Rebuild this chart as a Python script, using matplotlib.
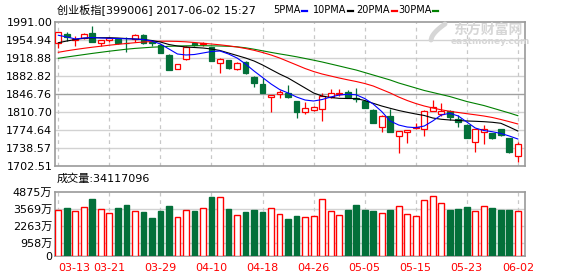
import matplotlib
matplotlib.use('Agg')
import matplotlib.pyplot as plt
from matplotlib.lines import Line2D
import numpy as np

plt.rcParams['font.family'] = ['DejaVu Sans', 'Noto Sans CJK SC']

# ---- data ----
dates = ['03-13', '03-14', '03-15', '03-16', '03-17', '03-20', '03-21', '03-22', '03-23', '03-24',
         '03-27', '03-28', '03-29', '03-30', '03-31', '04-05', '04-06', '04-07', '04-10', '04-11',
         '04-12', '04-13', '04-14', '04-17', '04-18', '04-19', '04-20', '04-21', '04-24', '04-25',
         '04-26', '04-27', '04-28', '05-02', '05-03', '05-04', '05-05', '05-08', '05-09', '05-10',
         '05-11', '05-12', '05-15', '05-16', '05-17', '05-18', '05-19', '05-22', '05-23', '05-24',
         '05-25', '05-26', '05-31', '06-01', '06-02']

opens = [1949.5, 1966.4, 1954.3, 1959.6, 1968.4, 1948.3, 1954.3, 1957.6, 1949.6, 1956.3,
         1965.0, 1951.0, 1945.0, 1925.0, 1896.8, 1916.3, 1948.0, 1946.3, 1940.3, 1908.2,
         1914.9, 1896.8, 1911.5, 1881.4, 1866.8, 1841.4, 1846.1, 1848.2, 1832.8, 1810.1,
         1814.0, 1816.1, 1841.4, 1847.4, 1850.1, 1839.4, 1832.8, 1814.7, 1781.3, 1802.7,
         1762.0, 1770.0, 1778.0, 1776.0, 1813.3, 1806.7, 1813.3, 1796.7, 1784.7, 1750.0,
         1771.3, 1768.0, 1776.6, 1758.0, 1723.1]
highs = [1971.0, 1970.4, 1963.6, 1968.0, 1983.0, 1955.5, 1961.0, 1958.0, 1960.4, 1966.0,
         1966.0, 1955.0, 1947.0, 1927.0, 1907.0, 1942.0, 1950.0, 1950.6, 1941.0, 1918.5,
         1915.0, 1911.0, 1912.0, 1882.0, 1878.2, 1844.5, 1854.0, 1864.8, 1833.5, 1830.0,
         1822.0, 1848.0, 1856.8, 1856.8, 1854.8, 1859.4, 1834.0, 1816.0, 1804.0, 1816.0,
         1773.0, 1775.0, 1788.0, 1814.0, 1834.7, 1828.0, 1815.0, 1804.7, 1786.0, 1776.0,
         1784.7, 1769.0, 1777.0, 1759.0, 1751.2]
lows = [1939.5, 1953.5, 1943.5, 1956.0, 1950.6, 1943.0, 1951.0, 1947.0, 1931.5, 1950.0,
        1947.0, 1942.5, 1928.0, 1894.0, 1896.0, 1915.0, 1942.0, 1943.0, 1913.0, 1888.0,
        1897.0, 1895.0, 1887.0, 1861.4, 1848.0, 1811.3, 1839.0, 1838.0, 1798.0, 1807.0,
        1813.0, 1792.7, 1838.0, 1842.0, 1838.0, 1830.0, 1818.0, 1788.0, 1771.3, 1770.0,
        1728.0, 1749.2, 1776.0, 1763.0, 1812.0, 1802.7, 1794.7, 1781.3, 1758.0, 1731.2,
        1746.0, 1757.0, 1762.0, 1729.0, 1711.0]
closes = [1970.4, 1960.3, 1956.3, 1967.0, 1951.6, 1954.9, 1959.6, 1948.3, 1948.3, 1965.0,
          1948.3, 1949.0, 1929.5, 1894.8, 1906.3, 1941.5, 1945.0, 1948.3, 1913.5, 1916.9,
          1898.2, 1909.5, 1888.2, 1869.4, 1849.4, 1844.0, 1850.8, 1840.2, 1811.4, 1818.1,
          1820.7, 1842.8, 1849.4, 1849.4, 1841.4, 1836.8, 1819.4, 1789.3, 1802.7, 1771.3,
          1772.6, 1774.6, 1780.6, 1813.3, 1821.3, 1813.3, 1801.3, 1790.0, 1759.2, 1776.0,
          1776.0, 1759.2, 1764.6, 1730.0, 1746.0]

# volume in 万 (10k shares)
volumes = [3486, 3637, 3385, 3688, 4319, 3536, 3233, 3637, 3865, 3385,
           3334, 2880, 3410, 3789, 2930, 3461, 3410, 3612, 4471, 4446,
           3562, 3082, 3334, 3486, 3334, 3612, 3183, 2804, 3031, 2930,
           3031, 4294, 3385, 3107, 3486, 3865, 3486, 3410, 3233, 3486,
           3764, 3183, 3031, 4218, 4547, 3991, 3486, 3562, 3713, 3385,
           3764, 3637, 3486, 3486, 3411.7096]
last_volume = 34117096

ma5 = [1964.4, 1961.0, 1957.0, 1958.9, 1960.0, 1958.9, 1958.3, 1957.9, 1957.3, 1956.9,
       1955.9, 1952.9, 1946.9, 1936.9, 1926.9, 1924.9, 1925.9, 1928.9, 1931.9, 1932.9,
       1926.9, 1918.9, 1906.9, 1892.8, 1879.8, 1866.8, 1855.8, 1848.8, 1840.7, 1834.7,
       1832.7, 1835.7, 1840.7, 1844.7, 1846.2, 1845.2, 1837.7, 1826.7, 1811.7, 1792.7,
       1784.6, 1780.6, 1779.3, 1782.6, 1792.7, 1804.7, 1808.1, 1802.7, 1790.7, 1778.6,
       1773.6, 1771.2, 1767.7, 1762.6, 1756.6]
ma10 = [1949.5, 1952.9, 1955.9, 1958.4, 1959.3, 1959.5, 1959.5, 1958.9, 1957.9, 1956.9,
        1955.9, 1953.9, 1950.9, 1945.9, 1942.9, 1940.9, 1939.9, 1938.9, 1936.9, 1933.9,
        1928.9, 1923.9, 1918.9, 1912.9, 1904.9, 1895.8, 1886.8, 1878.8, 1868.8, 1858.8,
        1848.8, 1842.7, 1839.7, 1838.1, 1837.7, 1837.7, 1833.7, 1828.1, 1822.7, 1818.1,
        1813.7, 1810.1, 1806.7, 1803.7, 1798.7, 1796.1, 1794.7, 1793.7, 1792.7, 1792.1,
        1791.3, 1790.1, 1788.1, 1780.6, 1772.6]
ma20 = [1930.3, 1933.3, 1935.9, 1938.3, 1940.5, 1942.5, 1944.5, 1946.3, 1947.9, 1949.5,
        1950.9, 1951.9, 1952.5, 1952.5, 1952.1, 1951.3, 1949.9, 1948.3, 1946.9, 1945.3,
        1943.3, 1940.9, 1937.9, 1934.3, 1929.9, 1924.9, 1918.9, 1911.9, 1904.9, 1897.8,
        1891.8, 1886.8, 1882.8, 1878.8, 1875.2, 1871.8, 1867.8, 1862.8, 1855.8, 1848.8,
        1840.7, 1833.7, 1827.7, 1822.7, 1818.7, 1815.1, 1812.1, 1809.7, 1807.3, 1805.1,
        1802.7, 1799.7, 1795.7, 1791.3, 1786.7]
ma30 = [1918.3, 1920.9, 1923.3, 1925.7, 1928.1, 1930.3, 1932.5, 1934.5, 1936.5, 1938.1,
        1939.3, 1940.5, 1941.3, 1942.3, 1942.9, 1943.3, 1943.5, 1943.5, 1943.3, 1942.9,
        1942.3, 1941.3, 1939.3, 1936.5, 1933.3, 1930.1, 1927.1, 1924.3, 1921.3, 1917.9,
        1914.5, 1910.9, 1906.9, 1902.9, 1898.8, 1894.8, 1889.8, 1884.8, 1879.8, 1874.8,
        1868.8, 1863.8, 1858.8, 1853.8, 1849.8, 1845.7, 1841.7, 1836.7, 1831.7, 1827.7,
        1823.7, 1818.7, 1813.7, 1808.7, 1803.3]

price_ticks = [1702.51, 1738.57, 1774.64, 1810.70, 1846.76, 1882.82, 1918.88, 1954.94, 1991.00]
vol_ticks = [0, 958, 2263, 3569, 4875]
ma_names = ['5PMA', '10PMA', '20PMA', '30PMA']

title = '创业板指[399006] 2017-06-02 15:27'

# ---- style ----
RED = '#ff0000'
GREEN = '#03703a'
GRID = '#d2d2d2'
FRAME = '#9a9a9a'
WM = '#d6d6d6'
ma_colors = ['#0000ff', '#000000', '#ff0000', '#008000']

W, H = 578, 276
fig = plt.figure(figsize=(W / 100, H / 100), dpi=100)
ax = fig.add_axes([55 / W, 1 - 166 / H, 470 / W, 144 / H])
axv = fig.add_axes([55 / W, 1 - 256 / H, 470 / W, 64.5 / H])

n = len(dates)
x = np.arange(n)
o = np.array(opens)
c = np.array(closes)
up = c >= o
tick_idx = list(range(0, n, 6))
xlim = (-0.39, n - 1 + 0.84)

# grid
for a, ticks in ((ax, price_ticks), (axv, vol_ticks)):
    for t in ticks[1:-1]:
        col = '#a0a0a0' if (a is ax and t == price_ticks[4]) else GRID
        a.axhline(t, color=col, lw=1, zorder=1)
    for t in tick_idx:
        a.axvline(t, color='#c8c8c8', lw=0.9, ls=(0, (3, 3)), zorder=1)

# candles
bw = 0.68
for i in range(n):
    col = RED if up[i] else GREEN
    lo, hi = min(o[i], c[i]), max(o[i], c[i])
    ax.vlines(i, lows[i], lo, color=col, lw=0.9, zorder=3)
    ax.vlines(i, hi, highs[i], color=col, lw=0.9, zorder=3)
    ax.bar(i, max(hi - lo, 0.8), bottom=lo, width=bw,
           facecolor='white' if up[i] else col, edgecolor=col, lw=0.9, zorder=4)

for vals, col in zip([ma30, ma20, ma10, ma5], ma_colors[::-1]):
    ax.plot(x, vals, color=col, lw=0.8, zorder=5)

ax.set_xlim(*xlim)
ax.set_ylim(price_ticks[0], price_ticks[-1])
ax.set_yticks(price_ticks)
ax.set_yticklabels([f'{v:.2f}' for v in price_ticks])
ax.set_xticks(tick_idx)
ax.set_xticklabels([])
ax.tick_params(length=0, pad=2, labelsize=8)

# volume
axv.bar(x, volumes, width=bw, facecolor=np.where(up, 'white', GREEN),
        edgecolor=np.where(up, RED, GREEN), lw=1, zorder=3)
axv.set_xlim(*xlim)
axv.set_ylim(vol_ticks[0], vol_ticks[-1])
axv.set_yticks(vol_ticks)
axv.set_yticklabels([f'{v}万' if v else '0' for v in vol_ticks])
axv.set_xticks(tick_idx)
axv.set_xticklabels([dates[i] for i in tick_idx], color=RED)
axv.get_xticklabels()[0].set_ha('left')
axv.tick_params(length=0, pad=2, labelsize=8)
axv.tick_params(axis='x', pad=5)

for a in (ax, axv):
    for s in a.spines.values():
        s.set_color(FRAME)
        s.set_linewidth(1.2)

# header + legend
fig.text(57 / W, 1 - 10 / H, title, fontsize=8, va='center')
fig.canvas.draw()
r = fig.canvas.get_renderer()
for name, col, x0 in zip(ma_names, ma_colors, [273, 313, 356, 398]):
    t = fig.text(x0 / W, 1 - 10 / H, name, fontsize=7, va='center')
    x1 = t.get_window_extent(r).x1
    fig.add_artist(Line2D([(x1 + 2) / W, (x1 + 7) / W], [1 - 11 / H] * 2,
                          color=col, lw=1.6, transform=fig.transFigure))

fig.text(57 / W, 1 - 179 / H, f'成交量:{last_volume}', fontsize=8, va='center')

# watermark (logo swoosh + name)
sw = np.linspace(0, 1, 20)
fig.add_artist(Line2D((431 + 14 * sw) / W, 1 - (40 - 16 * sw ** 0.6) / H,
                      color=WM, lw=3.5, solid_capstyle='round',
                      transform=fig.transFigure))
fig.text(453 / W, 1 - 30 / H, '东方财富网', fontsize=10, fontweight='bold',
         color=WM, va='center', family='Noto Sans CJK SC')
fig.text(451 / W, 1 - 41 / H, 'eastmoney.com', fontsize=6.5, fontweight='bold',
         color=WM, va='center')

fig.savefig('out.png', dpi=100)
